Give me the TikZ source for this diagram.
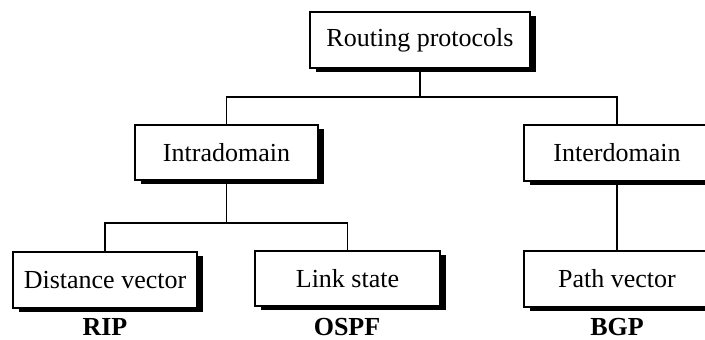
\documentclass[tikz,border=0pt]{standalone}
\usepackage{fontspec}
\setmainfont{Liberation Serif}
\usetikzlibrary{shadows}
\begin{document}
\begin{tikzpicture}[x=1pt,y=-1pt,
  box/.style={draw=black, line width=1.3pt, fill=white, rectangle,
    inner sep=0pt, font=\fontsize{26}{30}\selectfont,
    drop shadow={shadow xshift=6pt, shadow yshift=-4pt, fill=black, opacity=1}},
  conn/.style={line width=1.4pt},
  tag/.style={font=\bfseries\fontsize{26}{30}\selectfont, inner sep=0pt}]
\useasboundingbox (0,0) rectangle (705,340);
\begin{scope}
\clip (0,0) rectangle (705,340);
% boxes (centres in pixel-like units, y downward)
\node[box, minimum width=220pt, minimum height=56pt] (root) at (420,40) {Routing protocols};
\node[box, minimum width=183pt, minimum height=55pt] (intra) at (226.5,152.5) {Intradomain};
\node[box, minimum width=186pt, minimum height=56pt] (inter) at (617,153) {Interdomain};
\node[box, minimum width=184pt, minimum height=56pt] (dv) at (105,280) {Distance vector};
\node[box, minimum width=185pt, minimum height=55pt] (ls) at (347.5,278.5) {Link state};
\node[box, minimum width=186pt, minimum height=56pt] (pv) at (617,279) {Path vector};
% tree connectors
\coordinate (j1) at (420,97);
\coordinate (j2) at (226.5,223);
\draw[conn] (root.south) -- (j1);
\draw[conn] (intra.north) |- (j1) -| (inter.north);
\draw[conn] (intra.south) -- (j2);
\draw[conn] (dv.north) |- (j2) -| (ls.north);
\draw[conn] (inter.south) -- (pv.north);
% protocol names
\node[tag] (rip) at (105,327) {RIP};
\node[tag] (ospf) at (347,327) {OSPF};
\node[tag] (bgp) at (617,327) {BGP};
\end{scope}
\end{tikzpicture}
\end{document}
